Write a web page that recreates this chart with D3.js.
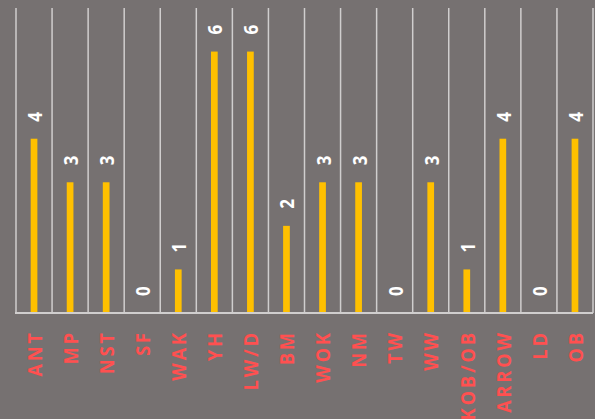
<!DOCTYPE html>
<html>
<head>
<meta charset="utf-8">
<script src="https://cdn.jsdelivr.net/npm/d3@7"></script>
<style>
  html, body { margin: 0; padding: 0; background: #767171; }
  svg { display: block; }
</style>
</head>
<body>
<svg id="chart" width="595" height="419"></svg>
<script>
const categories = ["ANT", "MP", "NST", "SF", "WAK", "YH", "LW/D", "BM", "WOK", "NM", "TW", "WW", "KOB/OB", "ARROW", "LD", "OB"];
const values = [4, 3, 3, 0, 1, 6, 6, 2, 3, 3, 0, 3, 1, 4, 0, 4];
const yMax = 7;

const svg = d3.select("#chart");
const W = 595, H = 419;
const margin = { left: 16, right: 2, top: 8, bottom: 106 };

svg.append("rect").attr("width", W).attr("height", H).attr("fill", "#767171");

const x = d3.scaleBand().domain(categories).range([margin.left, W - margin.right]).padding(0);
const y = d3.scaleLinear().domain([0, yMax]).range([H - margin.bottom, margin.top]);

// vertical gridlines at band boundaries
const bounds = categories.map(c => x(c)).concat([x(categories[categories.length - 1]) + x.bandwidth()]);
svg.append("g").selectAll("line").data(bounds).join("line")
  .attr("x1", d => d).attr("x2", d => d)
  .attr("y1", y(yMax)).attr("y2", y(0))
  .attr("stroke", "#D0CECE").attr("stroke-width", 1.5);

// bars
const barW = 6.7;
svg.append("g").selectAll("rect").data(values).join("rect")
  .attr("x", (d, i) => x(categories[i]) + x.bandwidth() / 2 - barW / 2)
  .attr("width", barW)
  .attr("y", d => y(d))
  .attr("height", d => y(0) - y(d))
  .attr("fill", "#FFC000");

// baseline axis
const axis = d3.axisBottom(x).tickSize(0).tickFormat("");
const ag = svg.append("g").attr("transform", `translate(0,${y(0)})`).call(axis);
ag.select(".domain").attr("stroke", "#D0CECE").attr("stroke-width", 2)
  .attr("d", `M${margin.left - 1},0H${W - margin.right}`);

// data labels
svg.append("g").selectAll("text").data(values).join("text")
  .attr("transform", (d, i) => `translate(${x(categories[i]) + x.bandwidth() / 2},${y(d) - 17}) rotate(-90) scale(1,1.15)`)
  .attr("dominant-baseline", "central")
  .attr("text-anchor", "start")
  .attr("fill", "#FFFFFF")
  .attr("font-family", "'Open Sans', sans-serif")
  .attr("font-weight", "bold")
  .attr("font-size", "17px")
  .text(d => d);

// category labels
svg.append("g").selectAll("text").data(categories).join("text")
  .attr("transform", c => `translate(${x(c) + x.bandwidth() / 2},${y(0) + 17}) rotate(-90) scale(1,1.07)`)
  .attr("dominant-baseline", "central")
  .attr("text-anchor", "end")
  .attr("fill", "#FF5050")
  .attr("font-family", "'Open Sans', sans-serif")
  .attr("font-weight", "bold")
  .attr("font-size", "18px")
  .attr("letter-spacing", "3px")
  .text(c => c);
</script>
</body>
</html>
